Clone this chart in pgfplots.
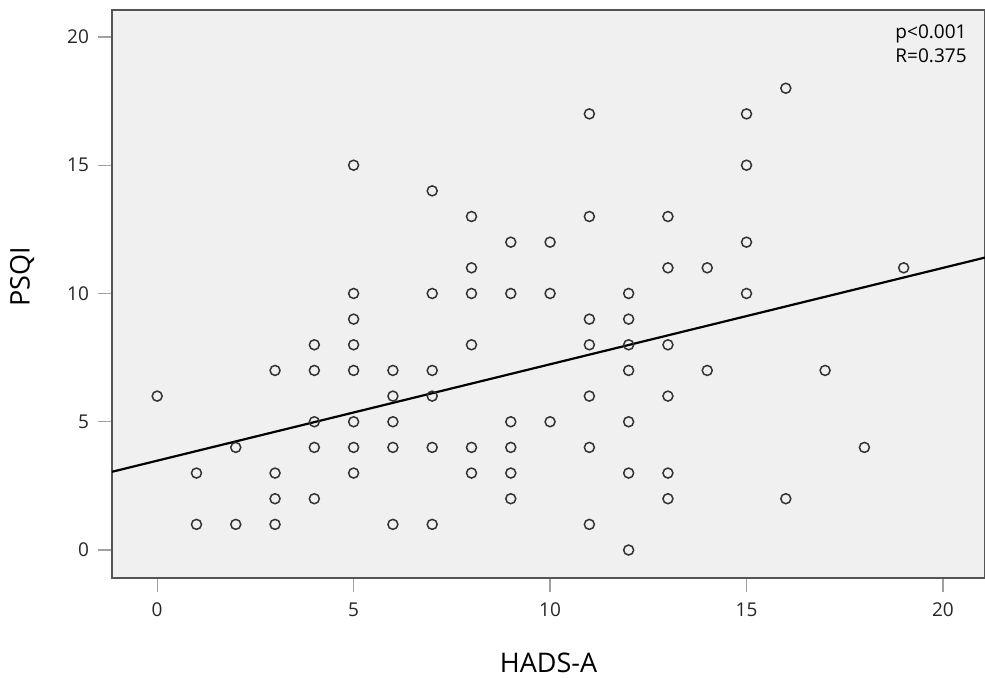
\documentclass[border=0pt]{standalone}
\usepackage{pgfplots}
\pgfplotsset{compat=1.18}
\usepackage{fontspec}
\setmainfont{Open Sans}
\definecolor{bgfill}{HTML}{F0F0F0}
\definecolor{markc}{HTML}{333333}
\definecolor{axc}{HTML}{555555}
\definecolor{tickc}{HTML}{A0A0A0}
\begin{document}
\begin{tikzpicture}[x=1pt,y=1pt]
\begin{axis}[
  at={(0,0)}, anchor=south west,
  scale only axis,
  width=436.5pt, height=284pt,
  xmin=-1.15, xmax=21.07,
  ymin=-1.09, ymax=21.05,
  xtick={0,5,10,15,20},
  ytick={0,5,10,15,20},
  xtick pos=bottom, ytick pos=left,
  tick align=outside,
  major tick length=7pt,
  tick style={color=tickc, line width=0.6pt},
  axis line style={color=axc, line width=0.8pt},
  axis background/.style={fill=bgfill},
  /pgf/number format/assume math mode=true,
  tick label style={font=\fontsize{9.5}{12}\selectfont, color=black!85},
  xticklabel style={yshift=-2pt},
  yticklabel style={xshift=-1pt},
  xlabel={HADS-A},
  ylabel={PSQI},
  x label style={at={(axis description cs:0.5,0)}, anchor=center, yshift=-42.5pt, font=\fontsize{13.5}{16}\selectfont},
  y label style={at={(axis description cs:-0.103,0.53)}, anchor=center, font=\fontsize{13.5}{16}\selectfont},
  clip=true,
]
\addplot[only marks, mark=o, mark size=2.5pt, mark options={color=markc, line width=0.75pt}] coordinates {
(0,6)
(1,3) (1,1)
(2,4) (2,1)
(3,7) (3,3) (3,2) (3,1)
(4,8) (4,7) (4,5) (4,4) (4,2)
(5,15) (5,10) (5,9) (5,8) (5,7) (5,5) (5,4) (5,3)
(6,7) (6,6) (6,5) (6,4) (6,1)
(7,14) (7,10) (7,7) (7,6) (7,4) (7,1)
(8,13) (8,11) (8,10) (8,8) (8,4) (8,3)
(9,12) (9,10) (9,5) (9,4) (9,3) (9,2)
(10,12) (10,10) (10,5)
(11,17) (11,13) (11,9) (11,8) (11,6) (11,4) (11,1)
(12,10) (12,9) (12,8) (12,7) (12,5) (12,3) (12,0)
(13,13) (13,11) (13,8) (13,6) (13,3) (13,2)
(14,11) (14,7)
(15,17) (15,15) (15,12) (15,10)
(16,18) (16,2)
(17,7)
(18,4)
(19,11)
};
\addplot[black, line width=1.1pt, no marks] coordinates {(-1.15,3.05) (21.07,11.40)};
\node[anchor=north west, align=left, inner sep=0pt, font=\fontsize{9.5}{12}\selectfont] at (axis description cs:0.897,0.975) {p<0.001\\R=0.375};
\end{axis}
\pgfresetboundingbox
\path[use as bounding box] (-56pt,-50pt) rectangle (436.5pt,289pt);
\end{tikzpicture}
\end{document}
